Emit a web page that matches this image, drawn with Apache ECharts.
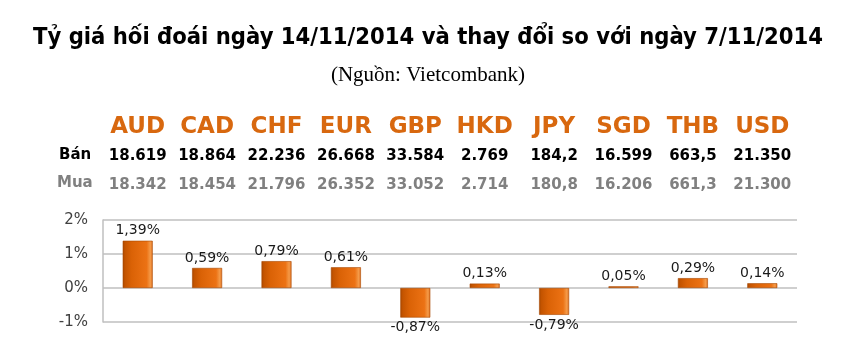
<!DOCTYPE html>
<html>
<head>
<meta charset="utf-8">
<script src="https://cdn.jsdelivr.net/npm/echarts@6/dist/echarts.min.js"></script>
<style>html,body{margin:0;padding:0;background:#fff}#c{width:855px;height:364px}</style>
</head>
<body>
<div id="c"></div>
<script>
const titleText = 'Tỷ giá hối đoái ngày 14/11/2014 và thay đổi so với ngày 7/11/2014';
const subtitleText = '(Nguồn: Vietcombank)';
const categories = ['AUD','CAD','CHF','EUR','GBP','HKD','JPY','SGD','THB','USD'];
const banValues = ['18.619','18.864','22.236','26.668','33.584','2.769','184,2','16.599','663,5','21.350'];
const muaValues = ['18.342','18.454','21.796','26.352','33.052','2.714','180,8','16.206','661,3','21.300'];
const changePct = [1.39,0.59,0.79,0.61,-0.87,0.13,-0.79,0.05,0.29,0.14];
const yTicks = [-1, 0, 1, 2];

const titleFont = 'bold 23px "DejaVu Sans"';
const cv = document.createElement('canvas').getContext('2d');
cv.font = titleFont;
const titleScale = 790 / cv.measureText(titleText).width;

const chart = echarts.init(document.getElementById('c'), null, {renderer:'canvas'});
const fmt = v => v.toFixed(2).replace('.', ',') + '%';
const barColor = new echarts.graphic.LinearGradient(0,0,1,0,[
  {offset:0, color:'#A84800'},
  {offset:0.08, color:'#C45400'},
  {offset:0.3, color:'#DA6206'},
  {offset:0.8, color:'#EC7214'},
  {offset:0.92, color:'#F49A48'},
  {offset:1, color:'#E07020'}
]);
chart.setOption({
  animation:false,
  graphic:[
    {type:'text', x:428, y:38, scaleX:titleScale, scaleY:1,
     style:{text:titleText, font:titleFont, fill:'#000', align:'center', verticalAlign:'middle'}},
    {type:'text', x:428, y:75,
     style:{text:subtitleText, font:'21px "Liberation Serif"', fill:'#000', align:'center', verticalAlign:'middle'}},
    {type:'text', left:59, top:148, style:{text:'Bán', font:'bold 15px "DejaVu Sans"', fill:'#000'}},
    {type:'text', left:57, top:176, style:{text:'Mua', font:'bold 15px "DejaVu Sans"', fill:'#808080'}}
  ],
  grid:{left:103, right:58, top:220, bottom:42},
  xAxis:[
    {type:'category', data:categories, axisLine:{show:false}, axisTick:{show:false}, axisLabel:{show:false}},
    {type:'category', data:categories, position:'top', offset:21,
     axisLine:{show:false}, axisTick:{show:false},
     axisLabel:{margin:0, interval:0,
       formatter:(v, i) => '{c|' + v + '}\n{b|' + banValues[i] + '}\n{m|' + muaValues[i] + '}',
       rich:{
         c:{fontFamily:'DejaVu Sans', fontWeight:'bold', fontSize:23, color:'#D8680F', lineHeight:30},
         b:{fontFamily:'DejaVu Sans', fontWeight:'bold', fontSize:15, color:'#000', lineHeight:29},
         m:{fontFamily:'DejaVu Sans', fontWeight:'bold', fontSize:15, color:'#808080', lineHeight:28}
       }}}
  ],
  yAxis:{type:'value', min:yTicks[0], max:yTicks[yTicks.length-1], interval:1,
    axisLine:{show:true, lineStyle:{color:'#BFBFBF', width:1.5}},
    axisTick:{show:false},
    axisLabel:{formatter:v => v + '%', fontFamily:'DejaVu Sans', fontSize:15, color:'#404040', margin:15},
    splitLine:{lineStyle:{color:'#BFBFBF', width:1.5}}},
  series:[{
    type:'bar', xAxisIndex:0, barWidth:30,
    data:changePct.map(v => ({value:v, label:{position: v < 0 ? 'bottom' : 'top'}})),
    itemStyle:{color:barColor, borderColor:'#A84800', borderWidth:0.6},
    label:{show:true, formatter:p => fmt(p.value), fontFamily:'DejaVu Sans', fontSize:14, color:'#1a1a1a', distance:3}
  }]
});
</script>
</body>
</html>
